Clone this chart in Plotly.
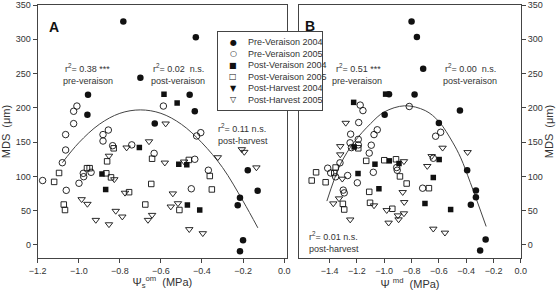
import plotly.graph_objects as go

# ---------------- data: panel A (x = Psi_s^om, MPa; y = MDS, um) ----------------
a_pre04_x = [-0.783, -0.70, -0.43, -0.955, -0.958, -0.63, -0.46, -0.435, -0.215, -0.226, -0.177, -0.129, -0.20, -0.215]
a_pre04_y = [326, 244, 303, 219, 190, 177, 219, 195, 69, 58, 109, 79, 7, -9]

a_pre05_x = [-0.588, -1.009, -1.025, -1.025, -1.064, -0.882, -0.882, -0.856, -0.835, -0.742, -0.406, -0.426,
             -1.064, -1.08, -1.061, -0.999, -0.978, -0.976, -0.94, -0.633, -0.435, -0.452, -0.369, -1.176]
a_pre05_y = [202.6, 202.6, 195, 177, 161, 161, 151.6, 167.6, 144.8, 146, 163.8, 159,
             138.5, 120, 79.7, 90, 104.5, 99.6, 106, 133.6, 125, 82, 109, 94]

a_post04_x = [-0.585, -0.521, -0.705, -0.887, -0.869, -0.513, -0.474, -0.471, -0.411]
a_post04_y = [220, 207, 142, 103.5, 81, 117.6, 117, 58.3, 51]

a_post05_x = [-0.83, -0.862, -0.866, -0.843, -1.096, -1.12, -1.073, -1.067, -0.96, -0.947, -0.643, -0.464,
              -0.647, -0.755, -0.676, -0.51, -0.362, -0.352]
a_post05_y = [141, 122, 104.5, 98.6, 105, 92, 59, 51, 112, 112, 125.8, 124,
              89, 77, 59, 51, 100.6, 81]

a_harv05_x = [-0.853, -0.827, -0.986, -0.958, -0.917, -0.853, -0.82, -0.788, -0.577, -0.767, -0.658, -0.581,
              -0.487, -0.775, -0.542, -0.517, -0.552, -0.643, -0.663, -0.462, -0.396, -0.323, -0.206, -0.194, -0.135]
a_harv05_y = [130, 95.7, 66.6, 59.8, 36.4, 30, 49.6, 41.3, 177, 142, 151, 120,
              121.5, 76, 75, 60.7, 55.9, 43.7, 36.4, 22.9, 17, 127.8, 139.5, 135.6, 113]

a_curve_x = [-1.08, -1.0, -0.9, -0.8, -0.7, -0.6, -0.5, -0.4, -0.3, -0.2, -0.128]
a_curve_y = [120, 149, 176, 192, 197, 192, 176, 149, 113, 64, 25]

# ---------------- data: panel B (x = Psi md, MPa) ----------------
b_pre04_x = [-0.80, -0.761, -0.715, -0.778, -0.965, -0.446, -0.997, -0.60, -0.393, -0.329, -0.329, -0.366, -0.258, -0.298]
b_pre04_y = [326, 303.5, 257, 219.4, 220, 196, 190, 178, 109, 79.4, 69.7, 58.6, 8, -8]

b_pre05_x = [-0.817, -1.176, -1.156, -1.187, -1.246, -1.051, -1.075, -1.095, -0.624, -0.587, -1.25, -1.24, -1.19, -1.19,
             -1.11, -1.324, -1.414, -1.392, -1.356, -1.268, -1.30, -1.293, -1.197, -1.08, -0.909, -0.905, -0.719, -0.641]
b_pre05_y = [202, 204, 196, 178.6, 161.6, 168, 161, 145.5, 158.6, 164.4, 149, 142, 154, 146,
             134, 119.8, 112, 105, 99.4, 101.3, 80, 76, 90.7, 106, 113, 109, 82.8, 126.5]

b_post04_x = [-1.224, -0.99, -1.22, -1.192, -1.068, -1.039, -0.963, -0.892, -0.702, -0.598, -0.641, -0.514]
b_post04_y = [208, 220, 143, 104.2, 117.8, 82, 122.7, 118.8, 60.5, 124.6, 98.4, 51.7]

b_post05_x = [-1.531, -1.499, -1.429, -1.366, -1.356, -1.303, -1.293, -1.19, -1.132, -1.11, -1.104, -1.0,
              -0.914, -0.885, -0.836, -0.941, -0.673]
b_post05_y = [94, 106, 91.5, 105, 113, 60, 51.7, 141, 122.7, 77.5, 61.5, 123.6,
              125, 100, 89.6, 52.8, 82.8]

b_harv05_x = [-1.282, -1.322, -1.322, -1.307, -1.331, -1.373, -1.249, -1.075, -0.856, -0.865, -0.854, -0.982,
              -0.856, -0.9, -0.895, -0.968, -0.685, -0.653, -0.573, -0.641, -0.556, -0.39]
b_harv05_y = [178, 144, 132, 96.5, 67.8, 60.5, 37, 57.6, 122, 77, 62.4, 50.7,
              46, 43, 37.2, 32.4, 115, 129.5, 141.7, 23.6, 17.8, 135.3]

b_curve_x = [-1.42, -1.32, -1.22, -1.10, -1.0, -0.85, -0.7, -0.6, -0.5, -0.44, -0.37, -0.254]
b_curve_y = [64, 118, 150, 177, 194, 203, 196, 180, 150, 127, 91, 27]

x_ticks_a = [-1.2, -1.0, -0.8, -0.6, -0.4, -0.2, 0.0]
x_ticks_b = [-1.4, -1.2, -1.0, -0.8, -0.6, -0.4, -0.2, 0.0]
y_ticks = [0, 50, 100, 150, 200, 250, 300, 350]

legend_names = ["Pre-Veraison 2004", "Pre-Veraison 2005", "Post-Veraison 2004",
                "Post-Veraison 2005", "Post-Harvest 2004", "Post-Harvest 2005"]
legend_glyphs = ["\u25CF", "\u25CB", "\u25A0", "\u25A1", "\u25BC", "\u25BD"]

# ---------------- figure ----------------
W, H = 559, 290
FONT = "Arial, Liberation Sans, sans-serif"
INK = "#333333"

def px_x(p):
    return p / W

def px_y(p):
    return (H - p) / H

fig = go.Figure()

def add_series(xs, ys, xa, ya, symbol, size, filled):
    fig.add_trace(go.Scatter(
        x=xs, y=ys, mode="markers", xaxis=xa, yaxis=ya, showlegend=False,
        marker=dict(symbol=symbol, size=size, color="#111111",
                    line=dict(color="#222222", width=0 if filled else 0.9)),
    ))

for xa, ya, cx, cy in [("x", "y", a_curve_x, a_curve_y), ("x2", "y2", b_curve_x, b_curve_y)]:
    fig.add_trace(go.Scatter(x=cx, y=cy, mode="lines", xaxis=xa, yaxis=ya, showlegend=False,
                             line=dict(color="#444444", width=1, shape="spline")))

add_series(a_pre04_x, a_pre04_y, "x", "y", "circle", 6.5, True)
add_series(a_pre05_x, a_pre05_y, "x", "y", "circle-open", 6.5, False)
add_series(a_post04_x, a_post04_y, "x", "y", "square", 5.5, True)
add_series(a_post05_x, a_post05_y, "x", "y", "square-open", 5.5, False)
add_series(a_harv05_x, a_harv05_y, "x", "y", "triangle-down-open", 6.5, False)

add_series(b_pre04_x, b_pre04_y, "x2", "y2", "circle", 6.5, True)
add_series(b_pre05_x, b_pre05_y, "x2", "y2", "circle-open", 6.5, False)
add_series(b_post04_x, b_post04_y, "x2", "y2", "square", 5.5, True)
add_series(b_post05_x, b_post05_y, "x2", "y2", "square-open", 5.5, False)
add_series(b_harv05_x, b_harv05_y, "x2", "y2", "triangle-down-open", 6.5, False)

axis_common = dict(showline=True, mirror=True, linecolor="#444444", linewidth=1,
                   ticks="outside", ticklen=4, tickwidth=1, tickcolor="#444444",
                   showgrid=False, zeroline=False, automargin=False,
                   tickfont=dict(family=FONT, size=9, color=INK))

y_dom = [px_y(258), px_y(5)]

fig.update_layout(
    width=W, height=H, margin=dict(l=0, r=0, t=0, b=0),
    paper_bgcolor="white", plot_bgcolor="white",
    font=dict(family=FONT, color=INK),
    xaxis=dict(domain=[px_x(37.7), px_x(287)], range=[-1.2, 0.014], anchor="y",
               tickvals=x_ticks_a, tickformat=".1f",
               title=dict(text="\u03A8<sub>s</sub><sup>om</sup>  (MPa)", font=dict(size=11, family=FONT, color=INK), standoff=2),
               **axis_common),
    yaxis=dict(domain=y_dom, range=[-19, 350], anchor="x", tickvals=y_ticks,
               title=dict(text="MDS  (\u03BCm)", font=dict(size=11, family=FONT, color=INK), standoff=3),
               **axis_common),
    xaxis2=dict(domain=[px_x(299), px_x(521)], range=[-1.624, 0.001], anchor="y2",
                tickvals=x_ticks_b, tickformat=".1f",
                title=dict(text="\u03A8 <sup>md</sup>  (MPa)", font=dict(size=11, family=FONT, color=INK), standoff=5),
                **axis_common),
    yaxis2=dict(domain=y_dom, range=[-19, 350], anchor="x2", side="right", tickvals=y_ticks,
                title=dict(text="MDS  (\u03BCm)", font=dict(size=11, family=FONT, color=INK), standoff=3),
                **axis_common),
)

ann = []
small = dict(family=FONT, size=9, color=INK)
# panel letters
ann.append(dict(x=px_x(47), y=px_y(17), text="<b>A</b>", font=dict(family=FONT, size=14, color="#111"),
                xref="paper", yref="paper", showarrow=False))
ann.append(dict(x=px_x(310), y=px_y(16), text="<b>B</b>", font=dict(family=FONT, size=14, color="#111"),
                xref="paper", yref="paper", showarrow=False))
# r2 texts (centered)
for (cx, cy, t) in [(87, 68, "r<sup>2</sup>= 0.38 ***"), (88, 81, "pre-veraison"),
                    (178, 68, "r<sup>2</sup>= 0.02  n.s."), (178, 81, "post-veraison"),
                    (358, 68, "r<sup>2</sup>= 0.51 ***"), (357, 81, "pre-veraison"),
                    (470, 68, "r<sup>2</sup>= 0.00  n.s."), (470, 81, "post-veraison")]:
    ann.append(dict(x=px_x(cx), y=px_y(cy), text=t, font=small, xref="paper", yref="paper",
                    showarrow=False, xanchor="center", yanchor="middle"))
# left-aligned r2 texts
for (lx, cy, t) in [(216, 128, "r<sup>2</sup>= 0.11 n.s."), (216, 141, "post-harvest"),
                    (307, 236, "r<sup>2</sup>= 0.01 n.s."), (307, 249, "post-harvest")]:
    ann.append(dict(x=px_x(lx), y=px_y(cy), text=t, font=small, xref="paper", yref="paper",
                    showarrow=False, xanchor="left", yanchor="middle"))

# legend box (opaque, drawn above axes)
ann.append(dict(x=px_x(270), y=px_y(71), text=" ", xref="paper", yref="paper", showarrow=False,
                width=104, height=78, bgcolor="white", bordercolor="#444444", borderwidth=1, borderpad=0,
                xanchor="center", yanchor="middle"))
row_y = [42.3, 53.8, 65.3, 76.8, 88.3, 99.8]
for i, (g, name) in enumerate(zip(legend_glyphs, legend_names)):
    ann.append(dict(x=px_x(233), y=px_y(row_y[i]), text=g, xref="paper", yref="paper", showarrow=False,
                    font=dict(family="DejaVu Sans", size=8, color="#111"), xanchor="center", yanchor="middle"))
    ann.append(dict(x=px_x(246), y=px_y(row_y[i]), text=name, xref="paper", yref="paper", showarrow=False,
                    font=small, xanchor="left", yanchor="middle"))

fig.update_layout(annotations=ann)
fig.write_html("out.html")
